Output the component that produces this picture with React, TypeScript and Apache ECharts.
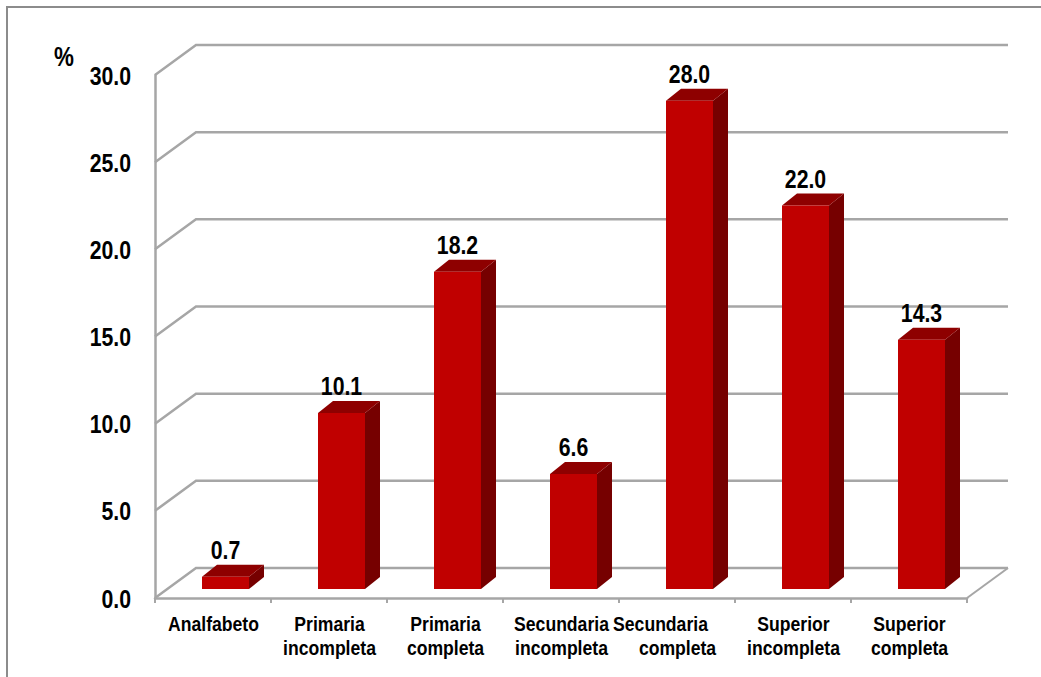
import React, { useEffect, useRef } from "react";
import * as echarts from "echarts";

const categories = [
  "Analfabeto",
  "Primaria\nincompleta",
  "Primaria\ncompleta",
  "Secundaria\nincompleta",
  "Secundaria\ncompleta",
  "Superior\nincompleta",
  "Superior\ncompleta",
];
const values = [0.7, 10.1, 18.2, 6.6, 28.0, 22.0, 14.3];
const yTicks = [0, 5, 10, 15, 20, 25, 30];

const FONT = '"Liberation Sans", Arial, sans-serif';
const GRID = "#A6A6A6";
const WALL_DX = 41;
const WALL_DY = 30;
const BAR_W = 47;
const BAR_LIFT_X = 12.5;
const BAR_LIFT_Y = 9;
const DEPTH_X = 15;
const DEPTH_Y = 12;
const NUM_SCALE = 0.85;
const CAT_SCALE = 0.88;
const SHIFTED_FIRST_LINE = 4;

function condensed(text: string, x: number, y: number, size: number, scaleX: number, align = "center") {
  return {
    type: "text",
    x,
    y,
    scaleX,
    style: {
      text,
      font: `bold ${size}px ${FONT}`,
      fill: "#000",
      align,
      verticalAlign: "middle",
    },
  };
}

function renderWall(params: any, api: any) {
  const s = params.coordSys;
  const v = api.value(1);
  const y = api.coord([0, v])[1];
  const x0 = s.x;
  const x1 = s.x + s.width;
  const children: any[] = [
    {
      type: "polyline",
      shape: { points: [[x0, y], [x0 + WALL_DX, y - WALL_DY], [x1 + WALL_DX, y - WALL_DY]] },
      style: { stroke: GRID, lineWidth: 2.5, fill: "none" },
    },
    condensed(v.toFixed(1), x0 - 24, y + 1, 25, NUM_SCALE, "right"),
  ];
  if (v === 0) {
    children.push({
      type: "line",
      shape: { x1, y1: y, x2: x1 + WALL_DX, y2: y - WALL_DY },
      style: { stroke: GRID, lineWidth: 2 },
    });
  }
  return { type: "group", children };
}

function renderBar(params: any, api: any) {
  const base = api.coord([api.value(0), 0]);
  const top = api.coord([api.value(0), api.value(1)]);
  const xl = base[0] + BAR_LIFT_X - BAR_W / 2;
  const xr = xl + BAR_W;
  const yb = base[1] - BAR_LIFT_Y;
  const yt = top[1] - BAR_LIFT_Y;
  return {
    type: "group",
    children: [
      {
        type: "polygon",
        shape: { points: [[xr, yb], [xr, yt], [xr + DEPTH_X, yt - DEPTH_Y], [xr + DEPTH_X, yb - DEPTH_Y]] },
        style: { fill: "#760000" },
      },
      {
        type: "polygon",
        shape: { points: [[xl, yt], [xr, yt], [xr + DEPTH_X, yt - DEPTH_Y], [xl + DEPTH_X, yt - DEPTH_Y]] },
        style: { fill: "#8E0000" },
      },
      {
        type: "rect",
        shape: { x: xl, y: yt, width: BAR_W, height: yb - yt },
        style: { fill: "#C00000" },
      },
      condensed(api.value(1).toFixed(1), (xl + xr) / 2, yt - DEPTH_Y - 14.5, 25, NUM_SCALE),
    ],
  };
}

function renderCategory(params: any, api: any) {
  const i = api.value(0);
  const p = api.coord([i, 0]);
  const lines = categories[i].split("\n");
  return {
    type: "group",
    children: lines.map((line, k) =>
      condensed(
        line,
        p[0] + 0.5 + (i === SHIFTED_FIRST_LINE && k === 0 ? -17 : 0),
        p[1] + 26 + k * 24,
        20,
        CAT_SCALE,
      ),
    ),
  };
}

export default function App() {
  const ref = useRef<HTMLDivElement>(null);
  useEffect(() => {
    document.body.style.margin = "0";
    const chart = echarts.init(ref.current!, undefined, { renderer: "svg" });
    chart.setOption({
      animation: false,
      backgroundColor: "#fff",
      grid: { left: 155, top: 75, width: 812, height: 523, containLabel: false },
      xAxis: {
        type: "category",
        data: categories,
        axisLine: { show: true, lineStyle: { color: GRID, width: 2.5 } },
        axisTick: { show: true, alignWithLabel: false, length: 5, lineStyle: { color: GRID, width: 2 } },
        axisLabel: { show: false },
      },
      yAxis: {
        type: "value",
        min: 0,
        max: 30,
        interval: 5,
        splitLine: { show: false },
        axisTick: { show: false },
        axisLine: { show: true, lineStyle: { color: GRID, width: 2.5 } },
        axisLabel: { show: false },
      },
      graphic: [
        {
          type: "rect",
          silent: true,
          z: -10,
          shape: { x: 7, y: 7, width: 1100, height: 800 },
          style: { fill: "none", stroke: "#8C8C8C", lineWidth: 2 },
        },
        {
          type: "text",
          silent: true,
          x: 64,
          y: 56,
          scaleX: 0.8,
          style: {
            text: "%",
            font: `bold 28px ${FONT}`,
            fill: "#000",
            align: "center",
            verticalAlign: "middle",
          },
        },
      ],
      series: [
        {
          type: "custom",
          name: "walls",
          clip: false,
          silent: true,
          z: 1,
          data: yTicks.map((v) => [0, v]),
          renderItem: renderWall,
        },
        {
          type: "custom",
          name: "bars",
          clip: false,
          silent: true,
          z: 3,
          data: values.map((v, i) => [i, v]),
          renderItem: renderBar,
        },
        {
          type: "custom",
          name: "categories",
          clip: false,
          silent: true,
          z: 3,
          data: categories.map((_, i) => [i, 0]),
          renderItem: renderCategory,
        },
      ],
    });
    return () => chart.dispose();
  }, []);
  return <div ref={ref} style={{ width: 1041, height: 677 }} />;
}
